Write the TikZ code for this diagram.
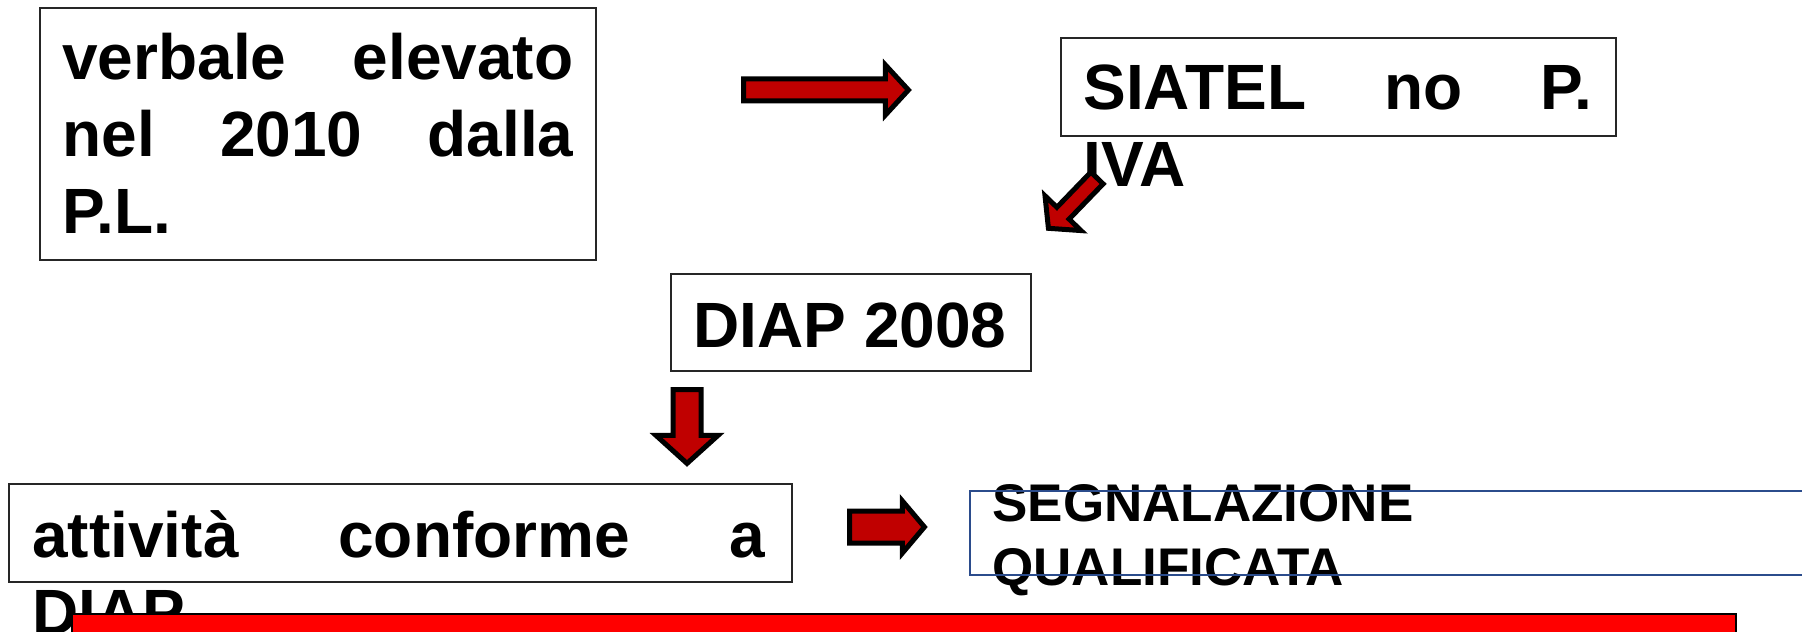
\documentclass[tikz,border=0pt]{standalone}
\usepackage{xcolor}
\usepackage{fontspec}
\setmainfont{Liberation Sans}
\usepackage{tikz}
\usetikzlibrary{calc}
\definecolor{rosso}{HTML}{FF0000}
\definecolor{rossoscuro}{HTML}{C00000}
\definecolor{bluscuro}{HTML}{2B4C8C}
% freccia piena: coda, punta, mezzo fusto, mezza punta, lunghezza punta
\newcommand{\freccia}[5]{%
  \filldraw[freccia] ($(#1)!#3!90:(#2)$) -- ($($(#2)!#5!(#1)$)!#3!90:(#2)$)
    -- ($($(#2)!#5!(#1)$)!#4!90:(#2)$) -- (#2)
    -- ($($(#2)!#5!(#1)$)!#4!-90:(#2)$) -- ($($(#2)!#5!(#1)$)!#3!-90:(#2)$)
    -- ($(#1)!#3!-90:(#2)$) -- cycle;}

\begin{document}
\begin{tikzpicture}[x=0.5pt, y=-0.5pt,
  riquadro/.style={draw=black!85, line width=1pt, inner sep=0pt, anchor=north west},
  testo/.style={font=\bfseries\fontsize{32}{38.5}\selectfont, inner sep=0pt, anchor=base west, align=left},
  freccia/.style={fill=rossoscuro, draw=black, line width=2.5pt, line join=miter}]
  \clip (0,0) rectangle (1802,631);
  % Verbale
  \node[riquadro, minimum width=278pt, minimum height=126pt] (verbale) at (39,7) {};
  \node[testo, text width=255.5pt] (verbaleT) at (62,80) {verbale\hfill elevato\\nel\hfill 2010\hfill dalla\\P.L.};
  % SIATEL
  \node[riquadro, minimum width=277.5pt, minimum height=49pt] (siatel) at (1060,37) {};
  \node[testo, text width=254.5pt] (siatelT) at (1083,110) {SIATEL\hfill no\hfill P.\\IVA};
  % DIAP 2008
  \node[riquadro, minimum width=180pt, minimum height=48.5pt] (diap) at (670,273) {};
  \node[testo] (diapT) at (693,347) {DIAP 2008};
  % Attivita conforme
  \node[riquadro, minimum width=391.5pt, minimum height=49pt] (attivita) at (8,483) {};
  \node[testo, text width=366.5pt] (attivitaT) at (32,557) {attività\hfill conforme\hfill a\\DIAP};
  % Segnalazione
  \node[testo, text width=300pt, font=\bfseries\fontsize{26.5}{32}\selectfont] (segnalT) at (992,521) {SEGNALAZIONE\\QUALIFICATA};
  \node[riquadro, draw=bluscuro, line width=1.2pt, minimum width=515.5pt, minimum height=42pt] (segnal) at (969,490) {};
  % Frecce
  \coordinate (f1a) at (743.5,90);
  \coordinate (f1b) at (908.4,90);
  \freccia{f1a}{f1b}{5.5pt}{12.5pt}{11.5pt}
  \coordinate (f2a) at (1097,178);
  \coordinate (f2b) at (1048.4,228.3);
  \freccia{f2a}{f2b}{4.25pt}{12.5pt}{10.5pt}
  \coordinate (f3a) at (687,389.5);
  \coordinate (f3b) at (687,463.4);
  \freccia{f3a}{f3b}{7pt}{15.5pt}{14pt}
  \coordinate (f4a) at (849.5,527);
  \coordinate (f4b) at (924.4,527);
  \freccia{f4a}{f4b}{8pt}{13pt}{11pt}
  % Barra rossa
  \node[riquadro, fill=rosso, draw=black, minimum width=832pt, minimum height=53.5pt] (barra) at (71,613) {};
\end{tikzpicture}
\end{document}
